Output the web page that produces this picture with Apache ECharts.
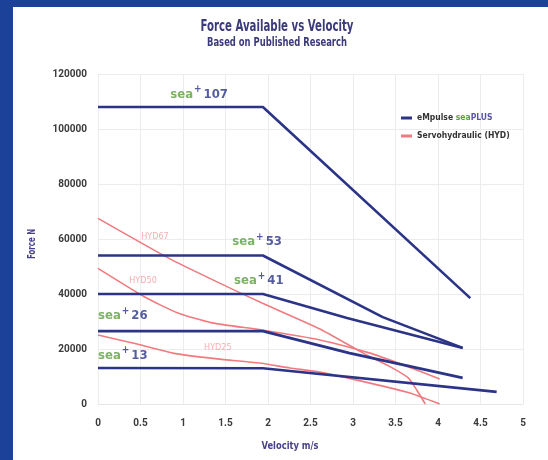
<!DOCTYPE html>
<html>
<head>
<meta charset="utf-8">
<script src="https://cdn.jsdelivr.net/npm/echarts@6/dist/echarts.min.js"></script>
<style>
html,body{margin:0;padding:0;background:#1b4298;}
#main{position:absolute;left:13px;top:7px;width:535px;height:453px;background:#fff;}
</style>
</head>
<body>
<div id="main"></div>
<script>
// velocity m/s / force N
var sea107Vel = [0, 1.94, 4.38];
var sea107Force = [108000, 108000, 38500];
var sea53Vel = [0, 1.94, 3.35, 4.29];
var sea53Force = [54000, 54000, 31600, 20400];
var sea41Vel = [0, 1.94, 2.93, 4.29];
var sea41Force = [40000, 40000, 31300, 20400];
var sea26Vel = [0, 1.94, 2.96, 4.29];
var sea26Force = [26500, 26500, 18500, 9500];
var sea13Vel = [0, 1.94, 4.69];
var sea13Force = [13100, 13000, 4400];

var hyd67Vel = [0, 0.87, 1.53, 1.93, 2.61, 3.12, 3.44, 3.65, 3.75, 3.85];
var hyd67Force = [67500, 52400, 42500, 36700, 27300, 18500, 13500, 9500, 5100, 0];
var hyd50Vel = [0, 0.55, 0.94, 1.34, 1.93, 2.61, 3.2, 3.59, 4.02];
var hyd50Force = [49300, 38900, 33100, 29500, 26900, 23300, 18500, 14200, 9100];
var hyd25Vel = [0, 0.46, 0.88, 1.4, 1.9, 2.26, 2.61, 3.2, 3.67, 4.02];
var hyd25Force = [25100, 21800, 18500, 16400, 14900, 13100, 11600, 7600, 4000, 0];

// label anchors (in chart units)
var seaNames = ['107', '53', '41', '26', '13'];
var seaLabelVel = [0.85, 1.58, 1.6, 0, 0];
var seaLabelForce = [112400, 58900, 44700, 32000, 17500];
var hydNames = ['HYD67', 'HYD50', 'HYD25'];
var hydLabelVel = [0.67, 0.53, 1.41];
var hydLabelForce = [60700, 44700, 20400];

var NAVY = '#2b3486';
var RED = '#ef7b7f';
var GREEN = '#5a9f3e';
var INK = '#47408c';
var COND = '"DejaVu Sans Condensed", "DejaVu Sans", sans-serif';

function pairs(xs, ys) {
	return xs.map(function (x, i) { return [x, ys[i]]; });
}

// squeeze a text to the width it has on the picture
var measureCtx = document.createElement('canvas').getContext('2d');
function fit(text, font, width) {
	measureCtx.font = font;
	return width / measureCtx.measureText(text).width;
}

var seriesList = [];
[[sea107Vel, sea107Force], [sea53Vel, sea53Force], [sea41Vel, sea41Force],
 [sea26Vel, sea26Force], [sea13Vel, sea13Force]].forEach(function (s) {
	seriesList.push({
		name: 'eMpulse seaPLUS',
		type: 'line',
		data: pairs(s[0], s[1]),
		symbol: 'none',
		z: 3,
		itemStyle: { color: NAVY },
		lineStyle: { color: NAVY, width: 2.6 }
	});
});
[[hyd67Vel, hyd67Force], [hyd50Vel, hyd50Force], [hyd25Vel, hyd25Force]].forEach(function (s) {
	seriesList.push({
		name: 'Servohydraulic (HYD)',
		type: 'line',
		data: pairs(s[0], s[1]),
		symbol: 'none',
		smooth: 0.2,
		z: 2,
		itemStyle: { color: RED },
		lineStyle: { color: RED, width: 1.6 }
	});
});

seriesList.push({
	type: 'scatter',
	silent: true,
	symbolSize: 0,
	z: 5,
	data: seaNames.map(function (n, i) { return { name: n, value: [seaLabelVel[i], seaLabelForce[i]] }; }),
	label: {
		show: true,
		position: 'inside',
		align: 'left',
		formatter: function (p) { return '{g|sea}{p|+}{n|' + p.name + '}'; },
		rich: {
			g: { color: GREEN, fontSize: 13, fontWeight: 'bold', fontFamily: COND, lineHeight: 16 },
			p: { color: NAVY, fontSize: 10, fontWeight: 'bold', fontFamily: COND, lineHeight: 10, padding: [0, 2, 10, 1] },
			n: { color: NAVY, fontSize: 13, fontWeight: 'bold', fontFamily: COND, lineHeight: 16 }
		}
	}
});
seriesList.push({
	type: 'scatter',
	silent: true,
	symbolSize: 0,
	z: 5,
	data: hydNames.map(function (n, i) { return { name: n, value: [hydLabelVel[i], hydLabelForce[i]] }; }),
	label: {
		show: true,
		position: 'inside',
		formatter: '{b}',
		color: '#f29a9c',
		fontSize: 9,
		fontFamily: COND
	}
});

var titleFont = 'bold 16px ' + COND;
var subFont = 'bold 12px ' + COND;
var nameFont = 'bold 11px ' + COND;

var chart = echarts.init(document.getElementById('main'));
chart.setOption({
	animation: false,
	backgroundColor: '#ffffff',
	grid: { left: 85, right: 25, top: 67, bottom: 56 },
	legend: {
		data: ['eMpulse seaPLUS', 'Servohydraulic (HYD)'],
		orient: 'vertical',
		left: 383,
		top: 100,
		icon: 'rect',
		itemWidth: 11,
		itemHeight: 3,
		itemGap: 6,
		selectedMode: false,
		formatter: function (name) {
			if (name === 'eMpulse seaPLUS') return '{a|eMpulse }{b|sea}{c|PLUS}';
			return '{a|' + name + '}';
		},
		textStyle: {
			fontSize: 8.5,
			fontWeight: 'bold',
			fontFamily: COND,
			color: '#333',
			lineHeight: 12,
			rich: {
				a: { fontSize: 8.5, fontWeight: 'bold', fontFamily: COND, color: '#333' },
				b: { fontSize: 8.5, fontFamily: COND, color: GREEN },
				c: { fontSize: 8.5, fontFamily: COND, color: '#5a55a8' }
			}
		}
	},
	xAxis: {
		type: 'value',
		min: 0,
		max: 5,
		interval: 0.5,
		axisLine: { show: true, lineStyle: { color: '#e6e6e6' } },
		axisTick: { show: false },
		axisLabel: { margin: 14, fontSize: 10, fontWeight: 'bold', fontFamily: 'Roboto', color: '#3a3a3a' },
		splitLine: { lineStyle: { color: '#ececec' } }
	},
	yAxis: {
		type: 'value',
		min: 0,
		max: 120000,
		interval: 20000,
		axisLine: { show: false },
		axisTick: { show: false },
		axisLabel: { margin: 11, fontSize: 10, fontWeight: 'bold', fontFamily: 'Roboto', color: '#3a3a3a',
			formatter: function (v) { return String(v); } },
		splitLine: { lineStyle: { color: '#ececec' } }
	},
	graphic: [
		{ type: 'text', x: 264, y: 20, scaleX: fit('Force Available vs Velocity', titleFont, 153),
		  style: { text: 'Force Available vs Velocity', font: titleFont, fill: '#3b3a7a', textAlign: 'center', textVerticalAlign: 'middle' } },
		{ type: 'text', x: 264, y: 36, scaleX: fit('Based on Published Research', subFont, 140),
		  style: { text: 'Based on Published Research', font: subFont, fill: '#3b3a7a', textAlign: 'center', textVerticalAlign: 'middle' } },
		{ type: 'text', x: 277, y: 439, scaleX: fit('Velocity m/s', nameFont, 57),
		  style: { text: 'Velocity m/s', font: nameFont, fill: INK, textAlign: 'center', textVerticalAlign: 'middle' } },
		{ type: 'text', x: 19, y: 237, rotation: Math.PI / 2, scaleX: fit('Force N', nameFont, 30),
		  style: { text: 'Force N', font: nameFont, fill: INK, textAlign: 'center', textVerticalAlign: 'middle' } }
	],
	series: seriesList
});
</script>
</body>
</html>
